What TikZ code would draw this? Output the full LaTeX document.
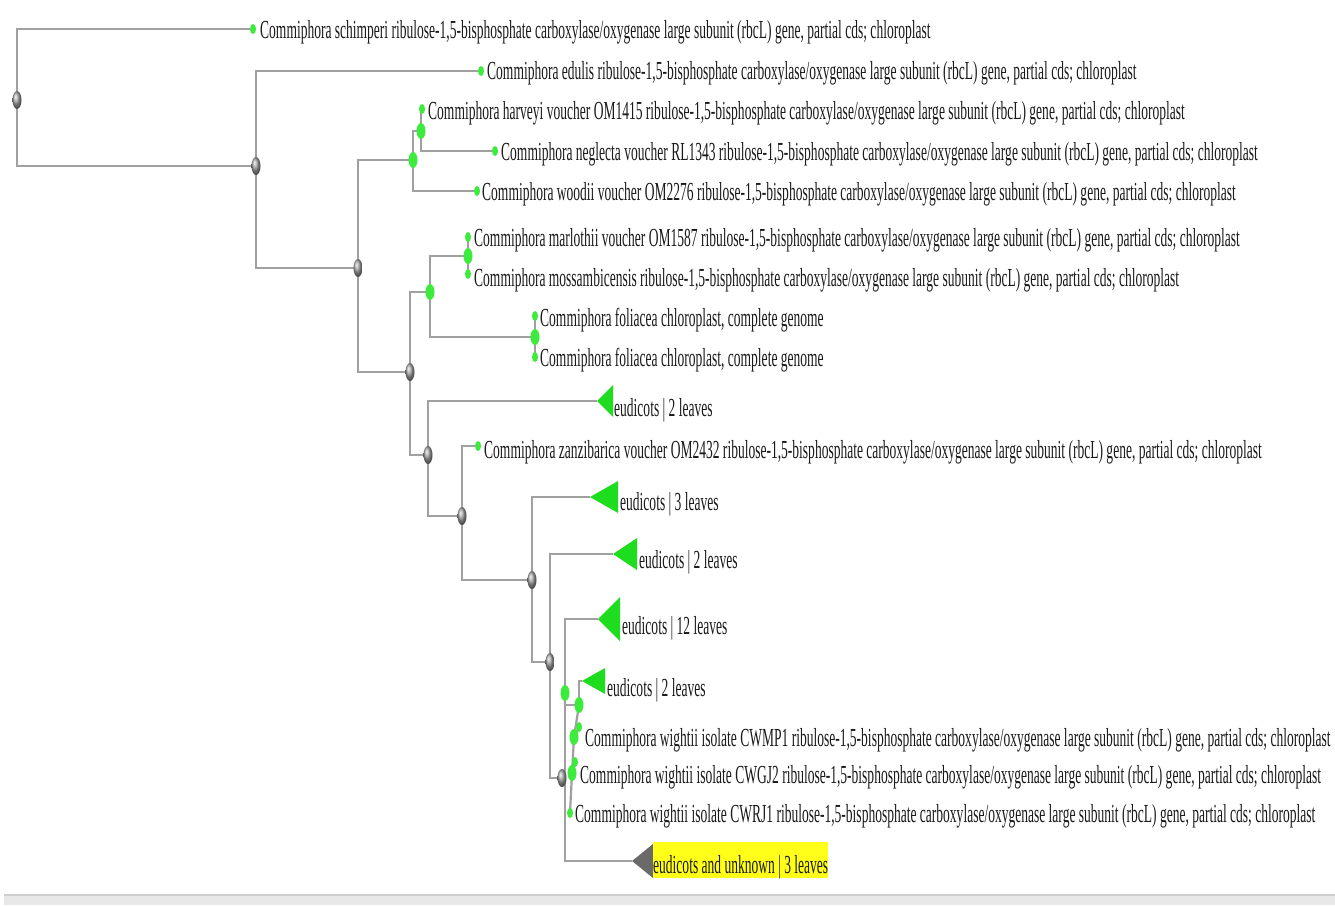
\documentclass[tikz,border=0pt]{standalone}
\usepackage{fontspec}
\newfontfamily\treefont[FakeStretch=0.52]{Liberation Serif}
\usetikzlibrary{shapes.geometric}
\pgfdeclarelayer{bg}
\pgfdeclarelayer{back}
\pgfsetlayers{back,bg,main}
\definecolor{edgec}{HTML}{A0A0A0}
\definecolor{leafgreen}{HTML}{3CEB3C}
\definecolor{trigreen}{HTML}{1EDC1E}
\definecolor{trigray}{HTML}{6A6A6A}
\definecolor{bargray}{HTML}{E8E8E8}
\definecolor{barline}{HTML}{CFCFCF}
\definecolor{hl}{HTML}{FFFF1A}
\definecolor{txt}{HTML}{1A1A1A}
\tikzset{
  edge/.style={draw=edgec, line width=2.2pt},
  inode/.style={ellipse, inner sep=0pt, minimum width=9pt, minimum height=18pt, ball color=gray!70},
  gnode/.style={ellipse, inner sep=0pt, minimum width=9pt, minimum height=16pt, fill=leafgreen},
  gleaf/.style={ellipse, inner sep=0pt, minimum width=6pt, minimum height=10pt, fill=leafgreen},
  lbl/.style={anchor=base west, inner sep=0pt, text=txt, font=\treefont\fontsize{26}{26}\selectfont},
}
\begin{document}
\begin{tikzpicture}[x=1pt, y=-1pt]
\useasboundingbox (0,0) rectangle (1335,905);
\begin{pgfonlayer}{back}
\fill[white] (0,0) rectangle (1335,905);
\fill[bargray] (4,895) rectangle (1335,905);
\draw[barline, line width=1.5pt] (4,895) -- (1335,895);
\end{pgfonlayer}

% internal nodes
\node[inode] (R0) at (17,100) {};
\node[inode] (G1) at (256,166) {};
\node[inode] (G2) at (358,268) {};
\node[inode] (G3) at (410,372) {};
\node[inode] (G4) at (428,455) {};
\node[inode] (G5) at (462,516) {};
\node[inode] (G6) at (532,580) {};
\node[inode] (G7) at (550,662) {};
\node[inode] (G8) at (562,778) {};
\node[gnode] (N1) at (413,160) {};
\node[gnode] (N2) at (421,131) {};
\node[gnode] (N3) at (430,292) {};
\node[gnode] (N4) at (468,256) {};
\node[gnode] (N5) at (535,337) {};
\node[gnode] (N6) at (565,693) {};
\node[gnode] (N7) at (579,705) {};
\node[gnode] (N8) at (574,737) {};
\node[gnode] (N9) at (572,773) {};

% leaf dots
\node[gleaf] (L1) at (253,29) {};
\node[gleaf] (L2) at (481,71) {};
\node[gleaf] (L3) at (422,109) {};
\node[gleaf] (L4) at (495,151) {};
\node[gleaf] (L5) at (477,191) {};
\node[gleaf] (L6) at (468,237) {};
\node[gleaf] (L7) at (468,274) {};
\node[gleaf] (L8) at (535,316) {};
\node[gleaf] (L9) at (535,357) {};
\node[gleaf] (L10) at (478,446) {};
\node[gleaf] (L11) at (579,727) {};
\node[gleaf] (L12) at (575,762) {};
\node[gleaf] (L13) at (570,813) {};

% collapsed clade tips
\coordinate (t1) at (597,401);
\coordinate (t2) at (590,497);
\coordinate (t3) at (613,554);
\coordinate (t4) at (598,619);
\coordinate (t5) at (582,681);
\coordinate (t6) at (632,861);
\fill[trigreen] (t1) -- ++(16,-16) -- ++(0,32) -- cycle;
\fill[trigreen] (t2) -- ++(28,-16) -- ++(0,32) -- cycle;
\fill[trigreen] (t3) -- ++(24,-16) -- ++(0,32) -- cycle;
\fill[trigreen] (t4) -- ++(22,-22) -- ++(0,44) -- cycle;
\fill[trigreen] (t5) -- ++(23,-13) -- ++(0,26) -- cycle;
\fill[trigray] (t6) -- ++(21,-17) -- ++(0,34) -- cycle;

% labels
\node[lbl] (T1) at (260,38) {Commiphora schimperi ribulose-1,5-bisphosphate carboxylase/oxygenase large subunit (rbcL) gene, partial cds; chloroplast};
\node[lbl] (T2) at (487,79) {Commiphora edulis ribulose-1,5-bisphosphate carboxylase/oxygenase large subunit (rbcL) gene, partial cds; chloroplast};
\node[lbl] (T3) at (428,119) {Commiphora harveyi voucher OM1415 ribulose-1,5-bisphosphate carboxylase/oxygenase large subunit (rbcL) gene, partial cds; chloroplast};
\node[lbl] (T4) at (501,160) {Commiphora neglecta voucher RL1343 ribulose-1,5-bisphosphate carboxylase/oxygenase large subunit (rbcL) gene, partial cds; chloroplast};
\node[lbl] (T5) at (482,200) {Commiphora woodii voucher OM2276 ribulose-1,5-bisphosphate carboxylase/oxygenase large subunit (rbcL) gene, partial cds; chloroplast};
\node[lbl] (T6) at (474,246) {Commiphora marlothii voucher OM1587 ribulose-1,5-bisphosphate carboxylase/oxygenase large subunit (rbcL) gene, partial cds; chloroplast};
\node[lbl] (T7) at (474,286) {Commiphora mossambicensis ribulose-1,5-bisphosphate carboxylase/oxygenase large subunit (rbcL) gene, partial cds; chloroplast};
\node[lbl] (T8) at (540,326) {Commiphora foliacea chloroplast, complete genome};
\node[lbl] (T9) at (540,366) {Commiphora foliacea chloroplast, complete genome};
\node[lbl] (T10) at (614,416) {eudicots | 2 leaves};
\node[lbl] (T11) at (484,458) {Commiphora zanzibarica voucher OM2432 ribulose-1,5-bisphosphate carboxylase/oxygenase large subunit (rbcL) gene, partial cds; chloroplast};
\node[lbl] (T12) at (620,510) {eudicots | 3 leaves};
\node[lbl] (T13) at (639,568) {eudicots | 2 leaves};
\node[lbl] (T14) at (622,634) {eudicots | 12 leaves};
\node[lbl] (T15) at (607,696) {eudicots | 2 leaves};
\node[lbl] (T16) at (585,746) {Commiphora wightii isolate CWMP1 ribulose-1,5-bisphosphate carboxylase/oxygenase large subunit (rbcL) gene, partial cds; chloroplast};
\node[lbl] (T17) at (580,783) {Commiphora wightii isolate CWGJ2 ribulose-1,5-bisphosphate carboxylase/oxygenase large subunit (rbcL) gene, partial cds; chloroplast};
\node[lbl] (T18) at (575,822) {Commiphora wightii isolate CWRJ1 ribulose-1,5-bisphosphate carboxylase/oxygenase large subunit (rbcL) gene, partial cds; chloroplast};
\node[lbl, fill=hl, text height=31pt, text depth=5pt] (T19) at (653,873) {eudicots and unknown | 3 leaves};

% connectors
\begin{pgfonlayer}{bg}
\draw[edge] (R0.center) |- (L1.center);
\draw[edge] (R0.center) |- (G1.center);
\draw[edge] (G1.center) |- (L2.center);
\draw[edge] (G1.center) |- (G2.center);
\draw[edge] (G2.center) |- (N1.center);
\draw[edge] (G2.center) |- (G3.center);
\draw[edge] (N1.center) |- (N2.center);
\draw[edge] (N1.center) |- (L5.center);
\draw[edge] (N2.center) |- (L3.center);
\draw[edge] (N2.center) |- (L4.center);
\draw[edge] (G3.center) |- (N3.center);
\draw[edge] (G3.center) |- (G4.center);
\draw[edge] (N3.center) |- (N4.center);
\draw[edge] (N3.center) |- (N5.center);
\draw[edge] (N4.center) -- (L6.center);
\draw[edge] (N4.center) -- (L7.center);
\draw[edge] (N5.center) -- (L8.center);
\draw[edge] (N5.center) -- (L9.center);
\draw[edge] (G4.center) |- (t1);
\draw[edge] (G4.center) |- (G5.center);
\draw[edge] (G5.center) |- (L10.center);
\draw[edge] (G5.center) |- (G6.center);
\draw[edge] (G6.center) |- (t2);
\draw[edge] (G6.center) |- (G7.center);
\draw[edge] (G7.center) |- (t3);
\draw[edge] (G7.center) |- (G8.center);
\draw[edge] (G8.center) ++(3,0) |- (t4);
\draw[edge] (G8.center) ++(3,0) |- (t6);
\draw[edge] (N6.center) |- (N7.center);
\draw[edge] (N7.center) |- (t5);
\draw[edge] (N7.center) -- (N8.center);
\draw[edge] (N8.center) -- (L11.center);
\draw[edge] (N8.center) -- (N9.center);
\draw[edge] (N9.center) -- (L12.center);
\draw[edge] (N9.center) -- (L13.center);
\end{pgfonlayer}
\end{tikzpicture}
\end{document}
